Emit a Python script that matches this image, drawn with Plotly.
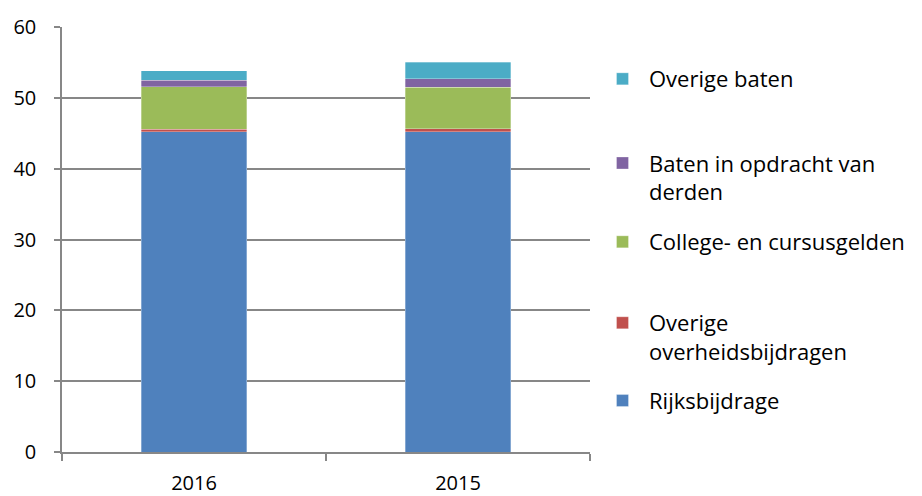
import plotly.graph_objects as go

years = ["2016", "2015"]
series_names = [
    "Rijksbijdrage",
    "Overige<br>overheidsbijdragen",
    "College- en cursusgelden",
    "Baten in opdracht van<br>derden",
    "Overige baten",
]
rijksbijdrage = [45.2, 45.2]
overige_overheid = [0.4, 0.45]
collegegelden = [5.95, 5.85]
baten_derden = [0.95, 1.2]
overige_baten = [1.3, 2.35]
colors = ["#4F81BD", "#C0504D", "#9BBB59", "#8064A2", "#4BACC6"]
y_ticks = [0, 10, 20, 30, 40, 50, 60]

values = [rijksbijdrage, overige_overheid, collegegelden, baten_derden, overige_baten]

# legend positions (paper coords, top of each legend block)
legend_y = [0.17, 0.353, 0.5435, 0.729, 0.927]
legend_keys = ["legend", "legend2", "legend3", "legend4", "legend5"]

fig = go.Figure()
for name, vals, col, lk in zip(series_names, values, colors, legend_keys):
    fig.add_trace(go.Bar(
        x=years, y=vals, name=name,
        marker=dict(color=col, line=dict(width=0.6, color="rgba(255,255,255,0.5)")),
        legend=lk, width=0.4,
    ))

tick_font = dict(family="Open Sans, sans-serif", size=20, color="#000000")
leg_font = dict(family="Open Sans, sans-serif", size=22, color="#000000")
layout_legends = {}
for lk, ly in zip(legend_keys, legend_y):
    layout_legends[lk] = dict(
        x=1.0 + (596 - 590) / 528, xanchor="left",
        y=ly, yanchor="top",
        font=leg_font, valign="top", itemwidth=43,
        bgcolor="rgba(0,0,0,0)",
    )

fig.update_layout(
    template="none",
    width=914, height=488,
    margin=dict(l=54, r=332, t=19, b=44),
    barmode="stack",
    plot_bgcolor="white", paper_bgcolor="white",
    font=tick_font,
    showlegend=True,
    **layout_legends,
    xaxis=dict(
        type="category", categoryorder="array", categoryarray=years,
        automargin=False,
        showline=True, linecolor="#878787", linewidth=1.5,
        ticks="outside", ticklen=7, tickcolor="#878787", tickwidth=1.5,
        tickson="boundaries", showgrid=False, ticklabelstandoff=12,
        tickfont=tick_font,
    ),
    yaxis=dict(
        automargin=False,
        range=[0, 60], tickvals=y_ticks, showgrid=True, gridcolor="#878787", gridwidth=1.5,
        showline=True, linecolor="#878787", linewidth=1.5,
        ticks="outside", ticklen=6, tickcolor="#878787", tickwidth=1.5,
        zeroline=False, ticklabelstandoff=14, tickfont=tick_font,
    ),
)

fig.write_html("out.html")
